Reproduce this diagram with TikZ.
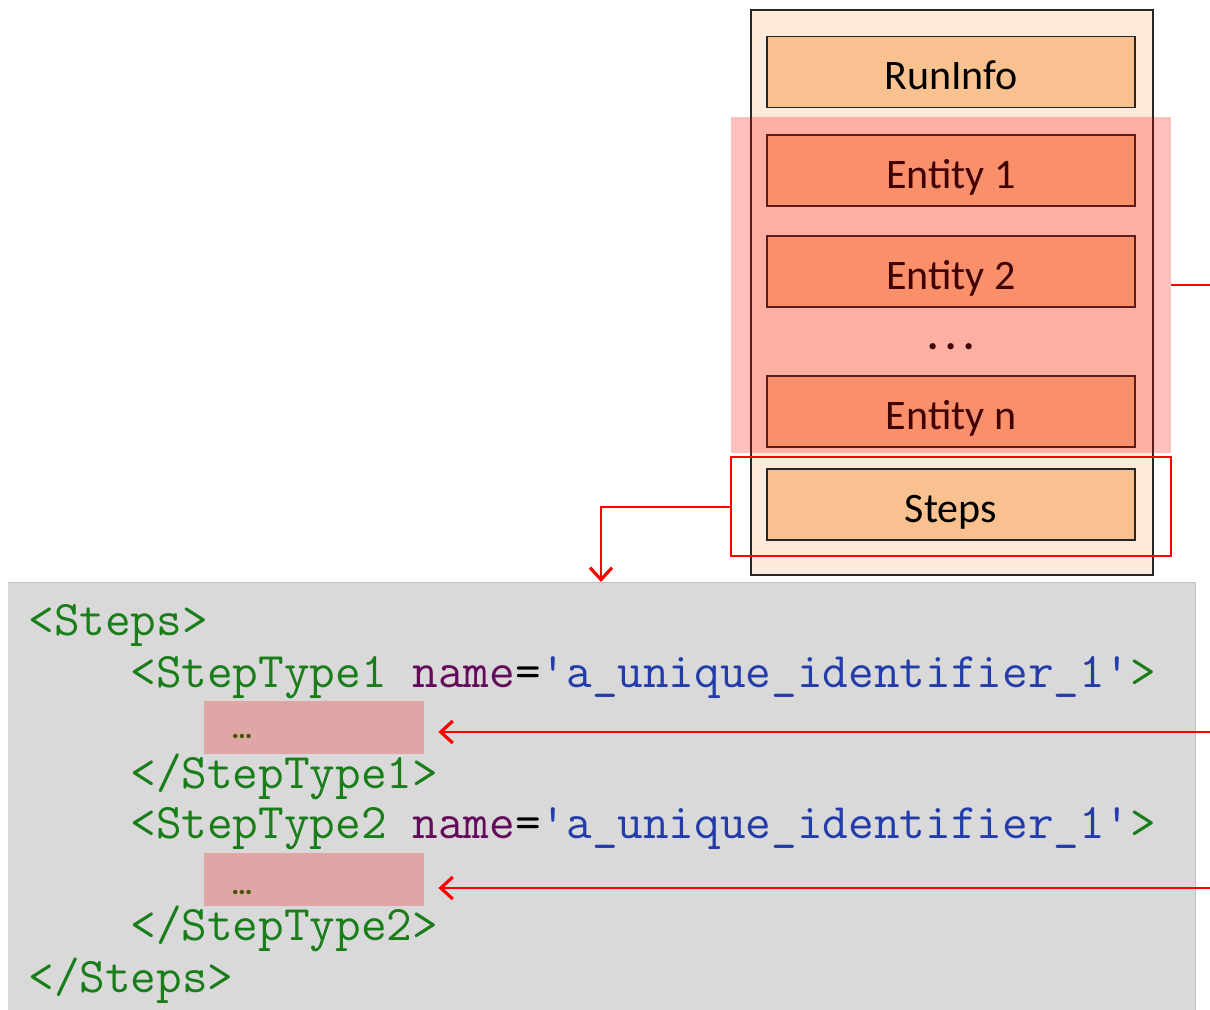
\documentclass[tikz,border=0pt]{standalone}
\usepackage{fontspec}
\setsansfont{Carlito}
\usetikzlibrary{arrows.meta}

\definecolor{partfill}{RGB}{249,193,144}
\definecolor{framefill}{RGB}{253,234,218}
\definecolor{codebg}{RGB}{217,217,217}
\definecolor{gapfill}{RGB}{224,166,166}
\definecolor{tagcol}{RGB}{25,125,25}
\definecolor{attrcol}{RGB}{100,10,90}
\definecolor{valcol}{RGB}{35,60,170}
\definecolor{dotcol}{RGB}{75,85,10}

\begin{document}
\begin{tikzpicture}[x=0.5pt,y=-0.5pt,
	part/.style={draw=black!85,line width=0.8pt,fill=partfill,minimum width=184pt,minimum height=35.5pt,inner sep=0pt,text height=21pt,text depth=3pt,font=\sffamily\fontsize{21}{21}\selectfont},
	code/.style={anchor=base west,inner sep=0pt,font=\ttfamily\fontsize{24.9}{24.9}\selectfont},
	gap/.style={fill=gapfill,minimum width=110pt,minimum height=26.5pt,inner sep=0pt},
	gapdots/.style={anchor=base west,inner sep=0pt,text=dotcol,font=\sffamily\bfseries\fontsize{15}{15}\selectfont},
	link/.style={red,line width=1pt},
	tip/.style={-{Straight Barb[length=6pt,width=11pt,line width=1.6pt]}}]
	\useasboundingbox (0,0) rectangle (1210,1010);
	% the file layout
	\node[draw=black!85,line width=1pt,fill=framefill,minimum width=201pt,minimum height=282.5pt,inner sep=0pt] (frame) at (952,292.5) {};
	\node[part] (runinfo) at (951,72) {RunInfo};
	\node[part] (ent1) at (951,170.5) {Entity 1};
	\node[part] (ent2) at (951,271.5) {Entity 2};
	\node[anchor=base,inner sep=0pt,font=\sffamily\bfseries\fontsize{21}{21}\selectfont] (edots) at (951,350) {.\,.\,.};
	\node[part] (entn) at (951,411.5) {Entity n};
	\node[part] (steps) at (951,504.5) {Steps};
	\node[fill=red,fill opacity=0.25,minimum width=220pt,minimum height=168pt,inner sep=0pt] (entities) at (951,285) {};
	\node[draw=red,line width=0.8pt,minimum width=220pt,minimum height=49.5pt,inner sep=0pt] (stepsel) at (951,506.5) {};
	% the xml block
	\fill[codebg] (8,582) rectangle (1195,1012);
	\draw[black!25] (8,582) -- (1195,582) -- (1195,1012);
	\node[gap] (gap1) at (314,727.5) {};
	\node[gap] (gap2) at (314,879.5) {};
	\node[code] (l1) at (28,635) {\color{tagcol}<Steps>};
	\node[code] (l2) at (130,687) {\color{tagcol}<StepType1 \color{attrcol}name\color{black}=\color{valcol}\textquotesingle a\_unique\_identifier\_1\textquotesingle\color{tagcol}>};
	\node[code] (l4) at (130,788) {\color{tagcol}</StepType1>};
	\node[code] (l5) at (130,838) {\color{tagcol}<StepType2 \color{attrcol}name\color{black}=\color{valcol}\textquotesingle a\_unique\_identifier\_1\textquotesingle\color{tagcol}>};
	\node[code] (l7) at (130,940) {\color{tagcol}</StepType2>};
	\node[code] (l8) at (28,992) {\color{tagcol}</Steps>};
	\node[gapdots] (gdots1) at (231,738) {…};
	\node[gapdots] (gdots2) at (231,894) {…};
	% connectors
	\coordinate (drop) at (601,582);
	\coordinate (out1) at (1212,285);
	\coordinate (in1) at (1212,732);
	\coordinate (in2) at (1212,888);
	\draw[link,tip] (stepsel.west) -| (drop);
	\draw[link] (entities.east) -- (out1);
	\draw[link,tip,shorten >=7pt] (in1) -- (in1 -| gap1.east);
	\draw[link,tip,shorten >=7pt] (in2) -- (in2 -| gap2.east);
\end{tikzpicture}
\end{document}
